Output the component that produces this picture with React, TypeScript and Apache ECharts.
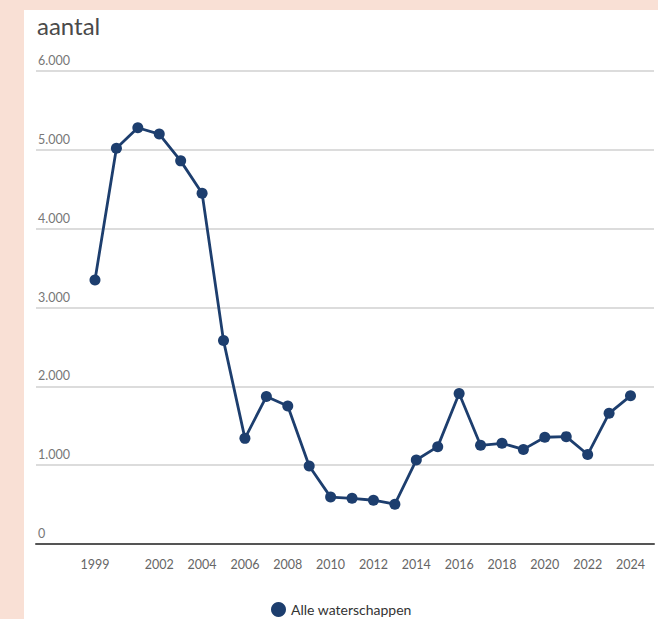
import React, { useEffect, useRef } from "react";
import * as echarts from "echarts";

const years: number[] = [
  1999, 2000, 2001, 2002, 2003, 2004, 2005, 2006, 2007, 2008, 2009, 2010, 2011,
  2012, 2013, 2014, 2015, 2016, 2017, 2018, 2019, 2020, 2021, 2022, 2023, 2024,
];
const aantal: number[] = [
  3350, 5020, 5280, 5200, 4860, 4450, 2580, 1340, 1870, 1750, 990, 595, 580,
  555, 505, 1065, 1235, 1910, 1252, 1277, 1200, 1354, 1362, 1135, 1658, 1880,
];
const xTickYears: number[] = [
  1999, 2002, 2004, 2006, 2008, 2010, 2012, 2014, 2016, 2018, 2020, 2022, 2024,
];
const seriesName = "Alle waterschappen";
const yTitle = "aantal";

const FONT = "Lato, 'Noto Sans', sans-serif";
const NAVY = "#1d3e6e";

export default function App() {
  const ref = useRef<HTMLDivElement>(null);

  useEffect(() => {
    if (!ref.current) return;
    const chart = echarts.init(ref.current, null, { renderer: "svg" });
    chart.setOption({
      animation: false,
      textStyle: { fontFamily: FONT },
      title: {
        text: yTitle,
        left: 32,
        top: 8,
        textStyle: { fontFamily: FONT, fontSize: 24, fontWeight: "normal", color: "#4a4a4a" },
      },
      legend: {
        data: [seriesName],
        left: 266,
        top: 597,
        icon: "circle",
        itemWidth: 15,
        itemHeight: 15,
        textStyle: { fontFamily: FONT, fontSize: 14, color: "#333" },
      },
      grid: { left: 36, right: 4, top: 71, bottom: 75, containLabel: false },
      xAxis: {
        type: "value",
        min: 1996.246,
        max: 2025.097,
        splitLine: { show: false },
        axisTick: { show: false },
        axisLine: { show: true, onZero: false, lineStyle: { color: "#555", width: 2 } },
        axisLabel: {
          customValues: xTickYears,
          formatter: (v: number) => String(Math.round(v)),
          color: "#666",
          fontSize: 12.5,
          margin: 14,
          fontFamily: FONT,
        },
      },
      yAxis: {
        type: "value",
        min: 0,
        max: 6000,
        interval: 1000,
        axisLine: { show: false },
        axisTick: { show: false },
        splitLine: { show: true, lineStyle: { color: "#dcdcdc", width: 2 } },
        axisLabel: {
          inside: true,
          margin: 2,
          align: "left",
          verticalAlign: "bottom",
          padding: [0, 0, 4, 0],
          color: "#777",
          fontSize: 12.5,
          fontFamily: FONT,
          formatter: (v: number) =>
            String(v).replace(/\B(?=(\d{3})+(?!\d))/g, "."),
        },
        z: 0,
      },
      series: [
        {
          name: seriesName,
          type: "line",
          data: years.map((y, i) => [y, aantal[i]]),
          symbol: "circle",
          symbolSize: 11,
          itemStyle: { color: NAVY },
          lineStyle: { color: NAVY, width: 2.8 },
        },
      ],
    });
    return () => chart.dispose();
  }, []);

  return (
    <div
      style={{
        position: "absolute",
        left: 0,
        top: 0,
        width: 658,
        height: 619,
        background: "#f9e0d5",
        overflow: "hidden",
      }}
    >
      <div
        style={{
          position: "absolute",
          left: 24,
          top: 10,
          width: 634,
          height: 609,
          background: "#ffffff",
        }}
      />
      <div
        ref={ref}
        style={{ position: "absolute", left: 0, top: 0, width: 658, height: 619 }}
      />
    </div>
  );
}
